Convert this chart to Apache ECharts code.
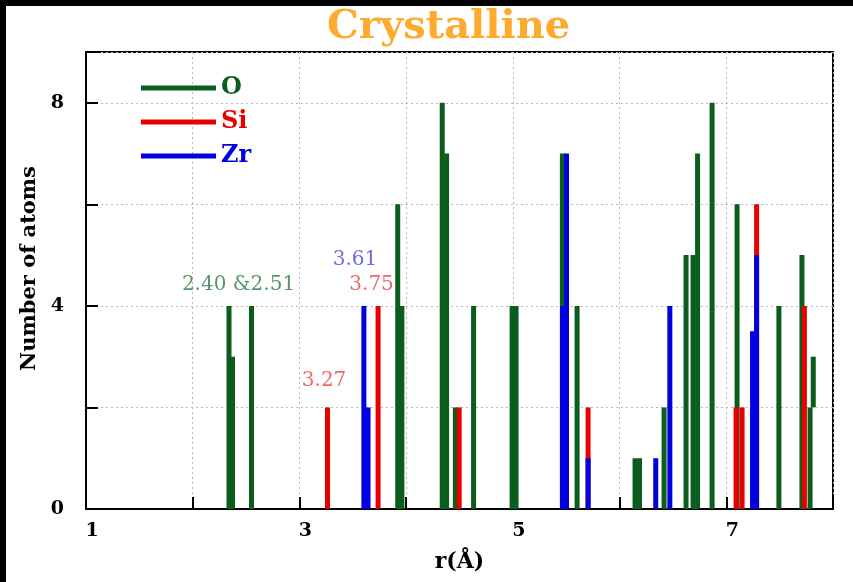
<!DOCTYPE html>
<html>
<head>
<meta charset="utf-8">
<script src="https://cdn.jsdelivr.net/npm/echarts@6/dist/echarts.min.js"></script>
<style>
html,body{margin:0;padding:0;background:#fff;}
#chart{width:853px;height:582px;}
</style>
</head>
<body>
<div id="chart"></div>
<script>
// ---- data: [r (Å), lower count, upper count] ----
const seriesNames = ['O', 'Si', 'Zr'];
const oBars = [
  [2.340, 0, 4], [2.373, 0, 3], [2.551, 0, 4],
  [3.921, 0, 6], [3.960, 0, 4],
  [4.338, 0, 8], [4.379, 0, 7], [4.461, 0, 2], [4.632, 0, 4],
  [4.993, 0, 4], [5.030, 0, 4],
  [5.464, 0, 7], [5.602, 0, 4],
  [6.145, 0, 1], [6.187, 0, 1], [6.417, 0, 2],
  [6.623, 0, 5], [6.689, 0, 5], [6.731, 0, 7], [6.867, 0, 8],
  [7.101, 0, 6], [7.493, 0, 4], [7.709, 0, 5], [7.785, 0, 2], [7.815, 2, 3]
];
const siBars = [
  [3.263, 0, 2], [3.737, 0, 4], [4.497, 0, 2], [5.705, 0, 2],
  [7.092, 0, 2], [7.148, 0, 2], [7.284, 0, 6], [7.732, 0, 4]
];
const zrBars = [
  [3.604, 0, 4], [3.643, 0, 2], [5.466, 0, 4], [5.503, 0, 7],
  [5.705, 0, 1], [6.339, 0, 1], [6.471, 0, 4], [7.246, 0, 3.5], [7.284, 0, 5]
];
// annotations: text, r, count
const annoTexts = ['2.40 &2.51', '3.61', '3.75', '3.27'];
const annoX = [2.429, 3.521, 3.676, 3.231];
const annoY = [4.42, 4.91, 4.42, 2.53];
const annoColors = ['#2f7a40', '#4646e2', '#e84444', '#e84444'];
// axis
const xMin = 1, xMax = 8, yMin = 0, yMax = 9;
const xLabelsShown = [1, 3, 5, 7];
const yLabelsShown = [0, 4, 8];

const colors = {O: '#0b5d1e', Si: '#e80000', Zr: '#0000e0'};
const BAR_W = 5;

function renderBar(params, api) {
  const x = api.value(0), y0 = api.value(1), y1 = api.value(2);
  const p0 = api.coord([x, y0]);
  const p1 = api.coord([x, y1]);
  return {
    type: 'rect',
    shape: {x: p0[0] - BAR_W / 2, y: p1[1], width: BAR_W, height: p0[1] - p1[1]},
    style: {fill: api.visual('color')}
  };
}

function barSeries(name, data) {
  return {
    name: name,
    type: 'custom',
    renderItem: renderBar,
    data: data,
    encode: {x: 0, y: [1, 2]},
    itemStyle: {color: colors[name]},
    animation: false
  };
}

const serif = '"DejaVu Serif", "Liberation Serif", serif';

const chart = echarts.init(document.getElementById('chart'), null, {renderer: 'canvas'});
chart.setOption({
  backgroundColor: '#ffffff',
  animation: false,
  title: {
    text: 'Crystalline',
    left: 322,
    top: 3,
    textStyle: {fontFamily: serif, fontWeight: 'bold', fontSize: 40, color: '#fdaa2e'}
  },
  graphic: [
    {type: 'rect', left: 0, top: 0, shape: {width: 853, height: 6}, style: {fill: '#000'}, z: 100},
    {type: 'rect', left: 0, top: 0, shape: {width: 6, height: 582}, style: {fill: '#000'}, z: 100}
  ],
  legend: {
    orient: 'vertical',
    left: 136,
    top: 71,
    itemWidth: 75,
    itemHeight: 5,
    itemGap: 10,
    selectedMode: false,
    data: seriesNames.map(n => ({name: n, icon: 'rect', textStyle: {color: colors[n]}})),
    textStyle: {fontFamily: serif, fontWeight: 'bold', fontSize: 24}
  },
  grid: {
    left: 86, right: 20, top: 52, bottom: 73,
    show: true, borderColor: '#000', borderWidth: 2, backgroundColor: '#fff'
  },
  xAxis: {
    type: 'value',
    min: xMin, max: xMax, interval: 1,
    name: 'r(Å)',
    nameLocation: 'middle',
    nameGap: 42,
    nameTextStyle: {fontFamily: serif, fontWeight: 'bold', fontSize: 22, color: '#000'},
    axisLine: {show: true, lineStyle: {color: '#000', width: 2}},
    axisTick: {show: true, inside: true, length: 12, lineStyle: {color: '#000', width: 2}},
    axisLabel: {
      margin: 13,
      fontFamily: serif, fontWeight: 'bold', fontSize: 19, color: '#000',
      padding: [0, 0, 0, 12],
      formatter: v => xLabelsShown.indexOf(v) >= 0 ? String(v) : ''
    },
    splitLine: {show: true, lineStyle: {color: '#b8b8b8', width: 1, type: [2, 3]}}
  },
  yAxis: {
    type: 'value',
    min: yMin, max: yMax, interval: 2,
    name: 'Number of atoms',
    nameLocation: 'middle',
    nameGap: 45,
    nameTextStyle: {fontFamily: serif, fontWeight: 'bold', fontSize: 21, color: '#000', padding: [0, 0, 0, 24]},
    axisLine: {show: true, lineStyle: {color: '#000', width: 2}},
    axisTick: {show: true, inside: true, length: 12, lineStyle: {color: '#000', width: 2}},
    axisLabel: {
      margin: 22,
      fontFamily: serif, fontWeight: 'bold', fontSize: 19, color: '#000',
      formatter: v => yLabelsShown.indexOf(v) >= 0 ? String(v) : ''
    },
    splitLine: {show: true, lineStyle: {color: '#b8b8b8', width: 1, type: [2, 3]}}
  },
  series: [
    barSeries('O', oBars),
    barSeries('Si', siBars),
    barSeries('Zr', zrBars),
    {
      name: 'annotations',
      type: 'scatter',
      symbolSize: 0,
      silent: true,
      legendHoverLink: false,
      data: annoTexts.map((t, i) => ({
        value: [annoX[i], annoY[i]],
        label: {show: true, position: 'inside', formatter: t,
          fontFamily: serif, fontSize: 20, color: annoColors[i]}
      })),
      z: 10
    }
  ]
});
</script>
</body>
</html>
